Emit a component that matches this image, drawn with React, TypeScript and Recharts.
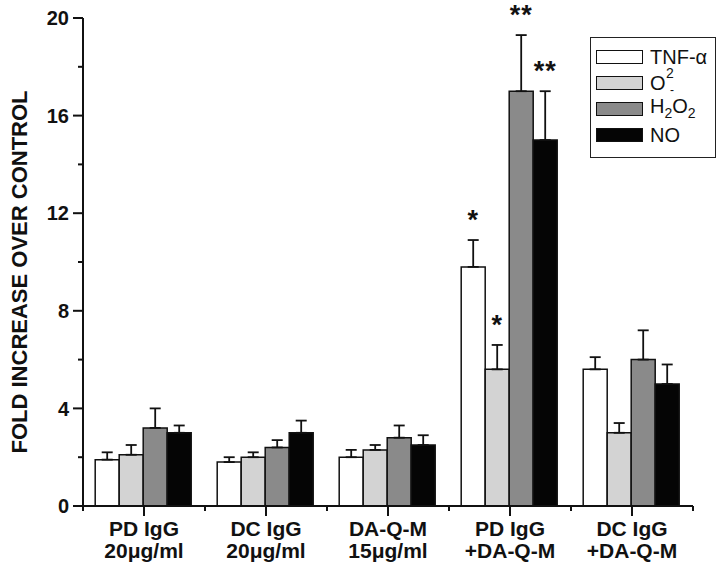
import React from 'react';
import { BarChart, Bar, XAxis, YAxis, ErrorBar, Legend, Rectangle, Label } from 'recharts';

// ---- data ----
const catLine1 = ['PD IgG', 'DC IgG', 'DA-Q-M', 'PD IgG', 'DC IgG'];
const catLine2 = ['20μg/ml', '20μg/ml', '15μg/ml', '+DA-Q-M', '+DA-Q-M'];

const tnf = [1.9, 1.8, 2.0, 9.8, 5.6];
const tnfSem = [0.3, 0.2, 0.3, 1.1, 0.5];
const tnfStars = ['', '', '', '*', ''];

const o2 = [2.1, 2.0, 2.3, 5.6, 3.0];
const o2Sem = [0.4, 0.2, 0.2, 1.0, 0.4];
const o2Stars = ['', '', '', '*', ''];

const h2o2 = [3.2, 2.4, 2.8, 17.0, 6.0];
const h2o2Sem = [0.8, 0.3, 0.5, 2.3, 1.2];
const h2o2Stars = ['', '', '', '**', ''];

const no = [3.0, 3.0, 2.5, 15.0, 5.0];
const noSem = [0.3, 0.5, 0.4, 2.0, 0.8];
const noStars = ['', '', '', '**', ''];

const yTicks = [0, 2, 4, 6, 8, 10, 12, 14, 16, 18, 20];
const seriesNames = ['TNF-α', 'O2-', 'H2O2', 'NO'];
const seriesFills = ['#ffffff', '#d3d3d3', '#8a8a8a', '#050505'];

const data = catLine1.map((c, i) => ({
  cat: `${c}|${catLine2[i]}`,
  tnf: tnf[i], tnfErr: [0, tnfSem[i]],
  o2: o2[i], o2Err: [0, o2Sem[i]],
  h2o2: h2o2[i], h2o2Err: [0, h2o2Sem[i]],
  no: no[i], noErr: [0, noSem[i]],
}));

// ---- layout ----
const W = 720;
const H = 576;
const X_H = 70;
const MARGIN = { top: 18, right: 27, bottom: 0, left: 0 };
const Y_W = 83;
const PLOT_W = W - MARGIN.left - MARGIN.right - Y_W;
const FONT = '"Liberation Sans", Arial, Helvetica, sans-serif';

const YTick = (props: any) => {
  const { x, y, payload } = props;
  const major = payload.value % 4 === 0;
  return (
    <g>
      <line x1={x - (major ? 10 : 5)} x2={x} y1={y} y2={y} stroke="#111" strokeWidth={2} />
      {major && (
        <text x={x - 14} y={y} dy="0.36em" textAnchor="end" fontSize={20} fontWeight="bold" fill="#111" fontFamily={FONT}>
          {payload.value}
        </text>
      )}
    </g>
  );
};

const XTick = (props: any) => {
  const { x, y, payload, index } = props;
  const band = PLOT_W / catLine1.length;
  const [l1, l2] = String(payload.value).split('|');
  return (
    <g>
      <line x1={x} x2={x} y1={y} y2={y + 10} stroke="#111" strokeWidth={2} />
      <line x1={x - band / 2} x2={x - band / 2} y1={y} y2={y + 5} stroke="#111" strokeWidth={2} />
      {index === catLine1.length - 1 && (
        <line x1={x + band / 2} x2={x + band / 2} y1={y} y2={y + 5} stroke="#111" strokeWidth={2} />
      )}
      <text x={x} y={y + 30} textAnchor="middle" fontSize={21} fontWeight="bold" fill="#111" fontFamily={FONT}>{l1}</text>
      <text x={x} y={y + 52} textAnchor="middle" fontSize={21} fontWeight="bold" fill="#111" fontFamily={FONT}>{l2}</text>
    </g>
  );
};

const makeShape = (key: string, sem: number[], stars: string[]) => (props: any) => {
  const { x, y, width, height, index, fill, payload } = props;
  const v = payload[key];
  const ppu = v > 0 ? height / v : 0;
  const star = stars[index];
  return (
    <g>
      <Rectangle x={x} y={y} width={width} height={height} fill={fill} stroke="#111" strokeWidth={1.5} />
      {star && (
        <text
          x={x + width / 2}
          y={y - sem[index] * ppu - 11}
          textAnchor="middle"
          fontSize={27}
          fontWeight="bold"
          letterSpacing={1}
          fill="#111"
          fontFamily={FONT}
        >
          {star}
        </text>
      )}
    </g>
  );
};

const legendLabel = (name: string) => {
  if (name === 'O2-') {
    return (
      <span style={{ position: 'relative', display: 'inline-block', width: 34, height: 26 }}>
        <span style={{ position: 'absolute', left: 0, top: 0 }}>O</span>
        <span style={{ position: 'absolute', left: 16, top: -5, fontSize: 14, lineHeight: '16px' }}>2</span>
        <span style={{ position: 'absolute', left: 20, top: 14, fontSize: 12, lineHeight: '12px' }}>-</span>
      </span>
    );
  }
  if (name === 'H2O2') {
    return (
      <span>
        H<sub style={{ fontSize: 14 }}>2</sub>O<sub style={{ fontSize: 14 }}>2</sub>
      </span>
    );
  }
  return <span>{name}</span>;
};

const LegendBox = () => (
  <div
    style={{
      border: '1.5px solid #222',
      width: 126,
      height: 121,
      boxSizing: 'border-box',
      padding: '6px 0 0 5px',
      fontFamily: FONT,
      fontSize: 20,
      color: '#111',
      background: '#fff',
    }}
  >
    {seriesNames.map((n, i) => (
      <div key={n} style={{ display: 'flex', alignItems: 'center', height: 26, lineHeight: '26px' }}>
        <div style={{ width: 47, height: 14, border: '1.5px solid #111', boxSizing: 'border-box', background: seriesFills[i], marginRight: 7, flex: 'none' }} />
        {legendLabel(n)}
      </div>
    ))}
  </div>
);

const YLabel = (props: any) => {
  const vb = props.viewBox || { x: 0, y: 0, width: 0, height: 0 };
  const cx = vb.x + 19;
  const cy = vb.y + vb.height / 2 + 10;
  return (
    <text
      transform={`translate(${cx},${cy}) rotate(-90)`}
      textAnchor="middle"
      dy="0.36em"
      fontSize={22}
      fontWeight="bold"
      fill="#111"
      fontFamily={FONT}
    >
      FOLD INCREASE OVER CONTROL
    </text>
  );
};

export default function App() {
  const keys = ['tnf', 'o2', 'h2o2', 'no'];
  const sems = [tnfSem, o2Sem, h2o2Sem, noSem];
  const stars = [tnfStars, o2Stars, h2o2Stars, noStars];
  return (
    <div style={{ position: 'absolute', left: 0, top: 0, width: W, height: H, background: '#fff' }}>
      <BarChart width={W} height={H} data={data} margin={MARGIN} barGap={0} barCategoryGap="10%">
        <XAxis
          dataKey="cat"
          tick={<XTick />}
          tickLine={false}
          tickSize={0}
          tickMargin={0}
          interval={0}
          axisLine={{ stroke: '#111', strokeWidth: 2 }}
          height={X_H}
        />
        <YAxis
          width={Y_W}
          domain={[0, 20]}
          ticks={yTicks}
          interval={0}
          tick={<YTick />}
          tickLine={false}
          tickSize={0}
          tickMargin={0}
          axisLine={{ stroke: '#111', strokeWidth: 2 }}
        >
          <Label content={<YLabel />} />
        </YAxis>
        <Legend
          layout="vertical"
          align="center"
          verticalAlign="middle"
          wrapperStyle={{ left: 590, top: 37, width: 126, height: 121 }}
          content={<LegendBox />}
        />
        {keys.map((k, i) => (
          <Bar
            key={k}
            dataKey={k}
            name={seriesNames[i]}
            fill={seriesFills[i]}
            isAnimationActive={false}
            shape={makeShape(k, sems[i], stars[i])}
          >
            <ErrorBar dataKey={`${k}Err`} direction="y" width={5.5} stroke="#111" strokeWidth={1.8} />
          </Bar>
        ))}
      </BarChart>
    </div>
  );
}
